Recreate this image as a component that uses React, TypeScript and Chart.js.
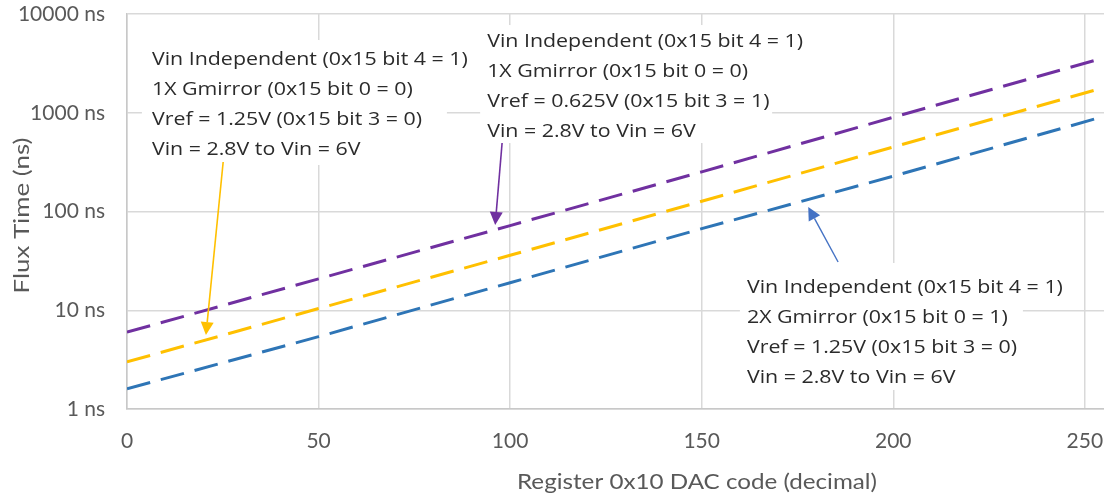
import React, { useEffect, useRef } from "react";
import { Chart, registerables } from "chart.js";

Chart.register(...registerables);

// DAC code sample points and flux time (ns) for each configuration
const dacCodes = [0, 50, 100, 150, 200, 255];
const flux1xVref0625 = [6.0, 20.8, 72, 252, 900, 3600];
const flux1xVref125 = [3.0, 10.4, 36, 127, 450, 1800];
const flux2xVref125 = [1.6, 5.4, 19, 67, 228, 920];

const xTickValues = [0, 50, 100, 150, 200, 250];
const yTickValues = [1, 10, 100, 1000, 10000];

const xTitle = "Register 0x10 DAC code (decimal)";
const yTitle = "Flux Time (ns)";

const noteVref0625 = [
  "Vin Independent (0x15 bit 4 = 1)",
  "1X Gmirror (0x15 bit 0 = 0)",
  "Vref = 0.625V (0x15 bit 3 = 1)",
  "Vin = 2.8V to Vin = 6V",
];
const noteVref125 = [
  "Vin Independent (0x15 bit 4 = 1)",
  "1X Gmirror (0x15 bit 0 = 0)",
  "Vref = 1.25V (0x15 bit 3 = 0)",
  "Vin = 2.8V to Vin = 6V",
];
const note2x = [
  "Vin Independent (0x15 bit 4 = 1)",
  "2X Gmirror (0x15 bit 0 = 1)",
  "Vref = 1.25V (0x15 bit 3 = 0)",
  "Vin = 2.8V to Vin = 6V",
];

const PURPLE = "#7030A0";
const GOLD = "#FFC000";
const BLUE = "#2E75B6";
const ARROW_BLUE = "#4472C4";
const TEXT = "#2b2b2b";
const AXIS_TEXT = "#595959";
const GRID = "#d9d9d9";

// Callouts: text anchored at (code, ns), white backing box padding in px,
// arrow from tail to tip in data coordinates.
const callouts = [
  {
    lines: noteVref125,
    at: [6.5, 3420],
    box: { l: 10, r: 295, t: 20, b: 105 },
    tail: [25.1, 317],
    tip: [20.6, 5.6],
    color: GOLD,
    width: 1.6,
  },
  {
    lines: noteVref0625,
    at: [94.0, 5200],
    box: { l: 7, r: 285, t: 17, b: 101 },
    tail: [97.9, 494],
    tip: [96.1, 73],
    color: PURPLE,
    width: 1.6,
  },
  {
    lines: note2x,
    at: [161.8, 16.8],
    box: { l: 7, r: 276, t: 25, b: 102 },
    tail: [185.6, 30.8],
    tip: [177.8, 111],
    color: ARROW_BLUE,
    width: 1.4,
  },
];

const LINE_GAP = 30;
const NOTE_FONT = '18px "Open Sans"';
const NOTE_WIDTH = 316;

function fillStretched(
  ctx: CanvasRenderingContext2D,
  text: string,
  x: number,
  y: number,
  sx: number
) {
  ctx.save();
  ctx.translate(x, y);
  ctx.scale(sx, 1);
  ctx.fillText(text, 0, 0);
  ctx.restore();
}

function drawArrow(
  ctx: CanvasRenderingContext2D,
  x1: number,
  y1: number,
  x2: number,
  y2: number,
  color: string,
  width: number
) {
  const ang = Math.atan2(y2 - y1, x2 - x1);
  const headLen = 13;
  const headHalf = 6.5;
  const bx = x2 - headLen * Math.cos(ang);
  const by = y2 - headLen * Math.sin(ang);
  ctx.save();
  ctx.strokeStyle = color;
  ctx.lineWidth = width;
  ctx.beginPath();
  ctx.moveTo(x1, y1);
  ctx.lineTo(bx, by);
  ctx.stroke();
  ctx.fillStyle = color;
  ctx.beginPath();
  ctx.moveTo(x2, y2);
  ctx.lineTo(bx + headHalf * Math.sin(ang), by - headHalf * Math.cos(ang));
  ctx.lineTo(bx - headHalf * Math.sin(ang), by + headHalf * Math.cos(ang));
  ctx.closePath();
  ctx.fill();
  ctx.restore();
}

const calloutPlugin = {
  id: "callouts",
  beforeDatasetsDraw(chart: any) {
    const { ctx, scales } = chart;
    ctx.save();
    ctx.fillStyle = "#ffffff";
    for (const c of callouts) {
      const ax = scales.x.getPixelForValue(c.at[0]);
      const ay = scales.y.getPixelForValue(c.at[1]);
      ctx.fillRect(ax - c.box.l, ay - c.box.t, c.box.l + c.box.r, c.box.t + c.box.b);
    }
    ctx.restore();
  },
  afterDatasetsDraw(chart: any) {
    const { ctx, scales } = chart;
    const px = (v: number) => scales.x.getPixelForValue(v);
    const py = (v: number) => scales.y.getPixelForValue(v);
    ctx.save();
    ctx.font = NOTE_FONT;
    const sx = NOTE_WIDTH / ctx.measureText(noteVref125[0]).width;
    for (const c of callouts) {
      drawArrow(ctx, px(c.tail[0]), py(c.tail[1]), px(c.tip[0]), py(c.tip[1]), c.color, c.width);
      ctx.fillStyle = TEXT;
      ctx.textAlign = "left";
      ctx.textBaseline = "middle";
      const ax = px(c.at[0]);
      const ay = py(c.at[1]);
      c.lines.forEach((line, i) => fillStretched(ctx, line, ax, ay + i * LINE_GAP, sx));
    }
    ctx.restore();
  },
  afterDraw(chart: any) {
    const { ctx, chartArea } = chart;
    ctx.save();
    ctx.fillStyle = AXIS_TEXT;
    ctx.textAlign = "center";
    ctx.textBaseline = "middle";
    ctx.font = '21px Lato';
    // x-axis title
    const sxX = 360 / ctx.measureText(xTitle).width;
    fillStretched(ctx, xTitle, 697, 482, sxX);
    // y-axis title, rotated
    const sxY = 156 / ctx.measureText(yTitle).width;
    ctx.save();
    ctx.translate(22, (chartArea.top + chartArea.bottom) / 2 + 4);
    ctx.rotate(-Math.PI / 2);
    ctx.scale(sxY, 1);
    ctx.fillText(yTitle, 0, 0);
    ctx.restore();
    ctx.restore();
  },
};

function series(values: number[]) {
  return dacCodes.map((x, i) => ({ x, y: values[i] }));
}

export default function App() {
  const canvasRef = useRef<HTMLCanvasElement | null>(null);

  useEffect(() => {
    const canvas = canvasRef.current;
    if (!canvas) return;
    const lineStyle = {
      borderWidth: 3,
      borderDash: [24, 11],
      borderCapStyle: "butt" as const,
      pointRadius: 0,
      tension: 0,
      fill: false,
    };
    const chart = new Chart(canvas, {
      type: "line",
      data: {
        datasets: [
          { label: "1X Gmirror, Vref = 0.625V", data: series(flux1xVref0625), borderColor: PURPLE, ...lineStyle },
          { label: "1X Gmirror, Vref = 1.25V", data: series(flux1xVref125), borderColor: GOLD, ...lineStyle },
          { label: "2X Gmirror, Vref = 1.25V", data: series(flux2xVref125), borderColor: BLUE, ...lineStyle },
        ],
      },
      options: {
        animation: false,
        responsive: false,
        maintainAspectRatio: false,
        layout: { padding: { top: 14, right: 0, left: 0, bottom: 0 } },
        plugins: {
          legend: { display: false },
          tooltip: { enabled: false },
        },
        scales: {
          x: {
            type: "linear",
            min: 0,
            max: 255,
            afterFit: (scale: any) => {
              scale.height = 86;
              scale.paddingLeft = 0;
              scale.paddingRight = 0;
            },
            afterBuildTicks: (scale: any) => {
              scale.ticks = xTickValues.map((value) => ({ value }));
            },
            ticks: {
              color: AXIS_TEXT,
              font: { family: "Lato", size: 21 },
              padding: 20,
              maxRotation: 0,
              autoSkip: false,
              includeBounds: false,
            },
            grid: { color: GRID, lineWidth: 1.5, drawTicks: false },
            border: { color: "#c8c8c8", width: 1.5 },
          },
          y: {
            type: "logarithmic",
            min: 1,
            max: 10000,
            afterFit: (scale: any) => {
              scale.width = 127;
              scale.paddingTop = 0;
              scale.paddingBottom = 0;
            },
            afterBuildTicks: (scale: any) => {
              scale.ticks = yTickValues.map((value) => ({ value }));
            },
            ticks: {
              color: AXIS_TEXT,
              font: { family: "Lato", size: 21 },
              padding: 22,
              autoSkip: false,
              callback: (value: any) => `${value} ns`,
            },
            grid: { color: GRID, lineWidth: 1.5, drawTicks: false },
            border: { color: "#c8c8c8", width: 1.5 },
          },
        },
      },
      plugins: [calloutPlugin],
    });
    return () => chart.destroy();
  }, []);

  return (
    <div
      style={{
        position: "absolute",
        left: 0,
        top: 0,
        width: 1104,
        height: 495,
        background: "#ffffff",
      }}
    >
      <canvas ref={canvasRef} width={1104} height={495} style={{ display: "block" }} />
    </div>
  );
}
